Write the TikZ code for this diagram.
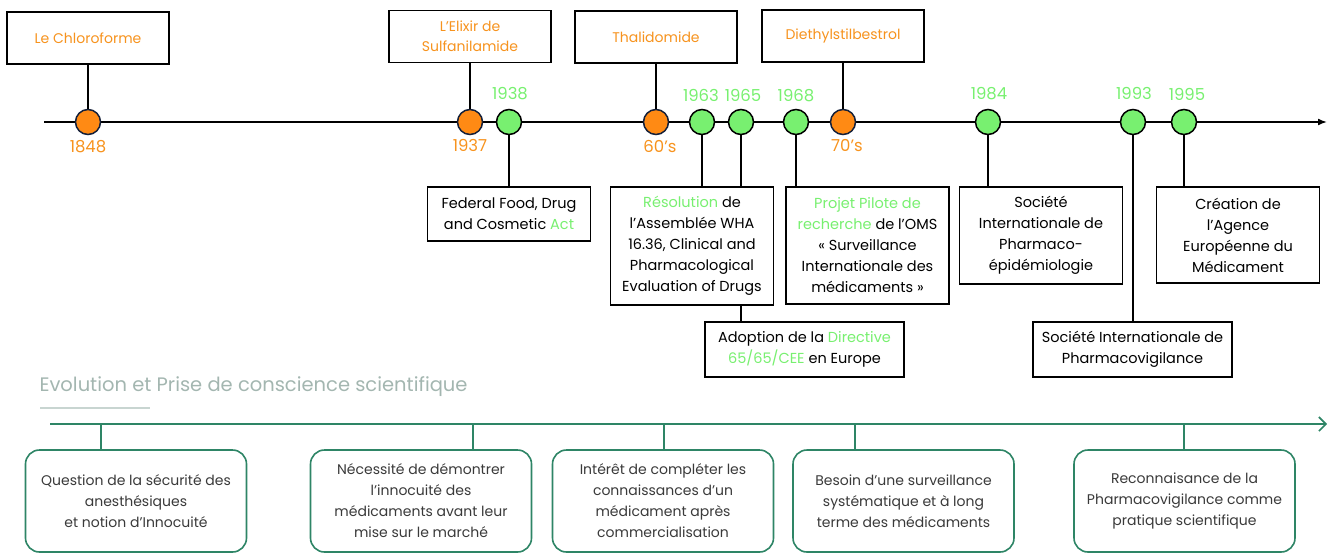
\documentclass[tikz,border=0pt]{standalone}
\usepackage{fontspec}
\setmainfont{Poppins}
\usepackage{tikz}
\usetikzlibrary{arrows.meta,positioning}
\definecolor{Orange}{HTML}{FF8A14}
\definecolor{OrangeText}{HTML}{F7931E}
\definecolor{LGreen}{HTML}{78F070}
\definecolor{Navy}{HTML}{14203A}
\definecolor{Teal}{HTML}{2E8566}
\definecolor{Ink}{HTML}{3A3A3A}
\definecolor{Sage}{HTML}{A3B6B0}
\definecolor{SageLine}{HTML}{C8D5D1}
\tikzset{
  timeline/.style={-{Latex[length=9pt,width=7pt]}, line width=1.6pt, draw=black},
  stem/.style={line width=1.5pt, draw=black},
  odot/.style={circle, draw=Navy, fill=Orange, line width=1.5pt, minimum size=25pt, inner sep=0pt},
  gdot/.style={circle, draw=black, fill=LGreen, line width=1.5pt, minimum size=25pt, inner sep=0pt},
  oyear/.style={font=\fontsize{16.5}{16.5}\selectfont, text=OrangeText},
  gyear/.style={font=\fontsize{16.5}{16.5}\selectfont, text=LGreen},
  topbox/.style={draw=black, line width=1.5pt, fill=white, align=center, inner sep=0pt, minimum width=162pt, minimum height=52pt, text=OrangeText, font=\fontsize{14}{20}\selectfont},
  evbox/.style={draw=black, line width=1.5pt, fill=white, align=center, inner sep=0pt, minimum width=163pt, text=black, font=\fontsize{14.5}{21}\selectfont},
  greenaxis/.style={-{Straight Barb[length=7pt,width=14pt]}, line width=1.6pt, draw=Teal},
  greenstem/.style={line width=1.5pt, draw=Teal},
  ideabox/.style={draw=Teal, line width=1.6pt, rounded corners=14pt, fill=white, align=center, inner sep=0pt, minimum width=221pt, minimum height=102pt, text=Ink, font=\fontsize{14}{21}\selectfont},
}
\begin{document}
\begin{tikzpicture}[x=1pt,y=-1pt]
\path[use as bounding box] (0,0) rectangle (1333,554);

% main timeline
\coordinate (tstart) at (44,122);
\coordinate (tend) at (1327,122);
\draw[timeline] (tstart) -- (tend);

% events on the line
\node[odot] (d1848) at (88,122) {};
\node[odot] (d1937) at (470,122) {};
\node[gdot] (d1938) at (509,122) {};
\node[odot] (d60s) at (656,122) {};
\node[gdot] (d1963) at (702,122) {};
\node[gdot] (d1965) at (741,122) {};
\node[gdot] (d1968) at (796,122) {};
\node[odot] (d70s) at (843,122) {};
\node[gdot] (d1984) at (988,122) {};
\node[gdot] (d1993) at (1133,122) {};
\node[gdot] (d1995) at (1184,122) {};

% years
\node[oyear] at (88,147) {1848};
\node[oyear] at (470,145) {1937};
\node[gyear] at (510,94) {1938};
\node[oyear] at (660,146) {60’s};
\node[gyear] at (701,95) {1963};
\node[gyear] at (743,95) {1965};
\node[gyear] at (796,96) {1968};
\node[oyear] at (847,146) {70’s};
\node[gyear] at (989,94) {1984};
\node[gyear] at (1134,93) {1993};
\node[gyear] at (1187,94) {1995};

% crises (above)
\node[topbox] (chloro) at (88,38) {Le Chloroforme};
\node[topbox] (elixir) at (470,36.5) {L’Elixir de\\Sulfanilamide};
\node[topbox] (thalido) at (656,37) {Thalidomide};
\node[topbox] (diethyl) at (843,36) {Diethylstilbestrol};
\draw[stem] (chloro) -- (d1848);
\draw[stem] (elixir) -- (d1937);
\draw[stem] (thalido) -- (d60s);
\draw[stem] (diethyl) -- (d70s);

% measures (below)
\node[evbox,minimum height=54pt] (fdca) at (509,214) {Federal Food, Drug\\and Cosmetic \textcolor{LGreen}{Act}};
\node[evbox,minimum height=118pt] (wha) at (692,246) {\textcolor{LGreen}{Résolution} de\\l’Assemblée WHA\\16.36, Clinical and\\Pharmacological\\Evaluation of Drugs};
\node[evbox,minimum width=199pt,minimum height=55pt] (cee) at (804.5,349.5) {Adoption de la \textcolor{LGreen}{Directive}\\\textcolor{LGreen}{65/65/CEE} en Europe};
\node[evbox,minimum height=117pt] (oms) at (867.5,245.5) {\textcolor{LGreen}{Projet Pilote de}\\\textcolor{LGreen}{recherche} de l’OMS\\« Surveillance\\Internationale des\\médicaments »};
\node[evbox,minimum height=97pt] (ispe) at (1041,235.5) {Société\\Internationale de\\Pharmaco-\\épidémiologie};
\node[evbox,minimum height=96pt] (emea) at (1238,235) {Création de\\l’Agence\\Européenne du\\Médicament};
\node[evbox,minimum width=199pt,minimum height=55pt] (isop) at (1132.5,349.5) {Société Internationale de\\Pharmacovigilance};
\draw[stem] (d1938) -- (fdca);
\draw[stem] (d1963) -- (d1963 |- wha.north);
\draw[stem] (d1965) -- (d1965 |- wha.north);
\draw[stem] (d1965 |- wha.south) -- (d1965 |- cee.north);
\draw[stem] (d1968) -- (d1968 |- oms.north);
\draw[stem] (d1984) -- (d1984 |- ispe.north);
\draw[stem] (d1995) -- (d1995 |- emea.north);
\draw[stem] (d1993) -- (d1993 |- isop.north);

% scientific awareness
\node[anchor=west, text=Sage, font=\fontsize{19.5}{19.5}\selectfont] (evol) at (36,387) {Evolution et Prise de conscience scientifique};
\draw[SageLine, line width=1.8pt] (40,408) -- (150,408);
\coordinate (gstart) at (50,424);
\coordinate (gend) at (1327,424);
\draw[greenaxis] (gstart) -- (gend);

\node[ideabox] (q1) at (136,501) {Question de la sécurité des\\anesthésiques\\et notion d'Innocuité};
\node[ideabox] (q2) at (421,501) {Nécessité de démontrer\\l'innocuité des\\médicaments avant leur\\mise sur le marché};
\node[ideabox] (q3) at (663,501) {Intérêt de compléter les\\connaissances d’un\\médicament après\\commercialisation};
\node[ideabox] (q4) at (903.5,501) {Besoin d’une surveillance\\systématique et à long\\terme des médicaments};
\node[ideabox] (q5) at (1184.5,501) {Reconnaisance de la\\Pharmacovigilance comme\\pratique scientifique};

\coordinate (t1) at (101,424);
\coordinate (t2) at (473,424);
\coordinate (t3) at (664,424);
\coordinate (t4) at (855,424);
\coordinate (t5) at (1184,424);
\draw[greenstem] (t1) -- (t1 |- q1.north);
\draw[greenstem] (t2) -- (t2 |- q2.north);
\draw[greenstem] (t3) -- (t3 |- q3.north);
\draw[greenstem] (t4) -- (t4 |- q4.north);
\draw[greenstem] (t5) -- (t5 |- q5.north);
\end{tikzpicture}
\end{document}
